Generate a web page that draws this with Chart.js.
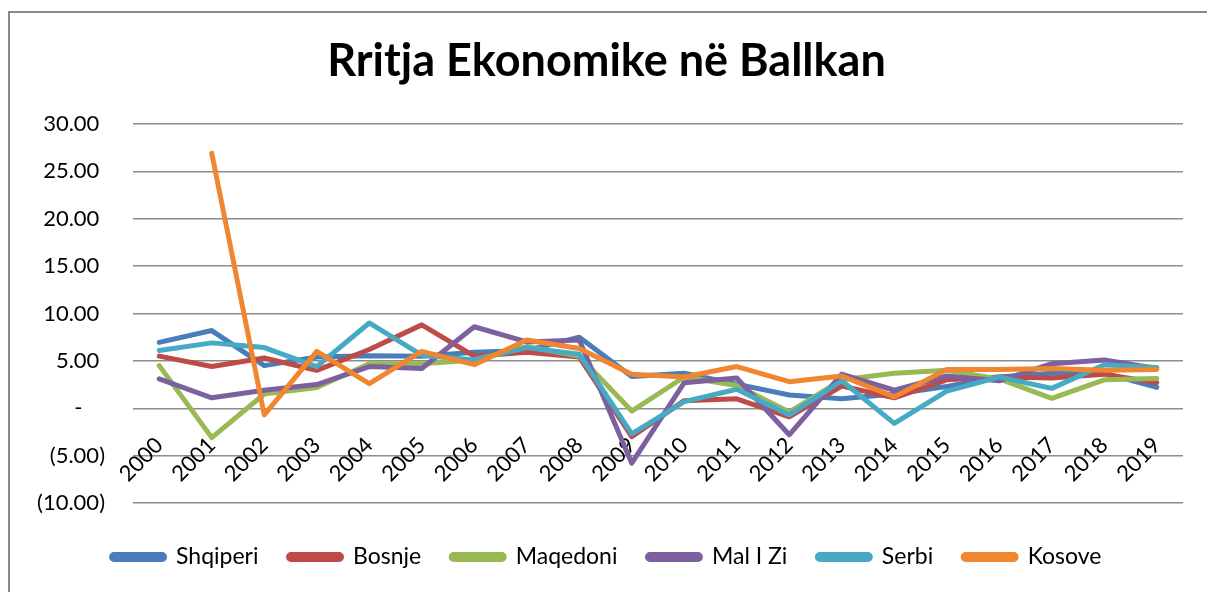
<!DOCTYPE html>
<html>
<head>
<meta charset="utf-8">
<script src="https://cdn.jsdelivr.net/npm/chart.js@4.4.1/dist/chart.umd.min.js"></script>
<style>
  html, body { margin: 0; padding: 0; background: #fff; overflow: hidden; }
  #frame { position: absolute; left: 8px; top: 11px; width: 1300px; height: 800px;
           border: 2px solid #8a8a8a; border-right: none; border-bottom: none; }
  #chart { position: absolute; left: 0; top: 0; }
</style>
</head>
<body>
<div id="frame"></div>
<canvas id="chart" width="1207" height="592"></canvas>
<script>
// --- Data ---
const years = ['2000', '2001', '2002', '2003', '2004', '2005', '2006', '2007', '2008', '2009',
  '2010', '2011', '2012', '2013', '2014', '2015', '2016', '2017', '2018', '2019'];

const shqiperi = [6.95, 8.2, 4.5, 5.4, 5.55, 5.5, 5.9, 6.1, 7.5, 3.35, 3.7, 2.55, 1.4, 1.0, 1.5, 2.3, 3.3, 3.7, 3.7, 2.2];
const bosnje   = [5.5, 4.4, 5.3, 4.0, 6.2, 8.8, 5.5, 5.9, 5.4, -3.0, 0.8, 1.0, -0.9, 2.35, 1.1, 3.0, 3.3, 3.2, 3.6, 2.7];
const maqedoni = [4.5, -3.1, 1.5, 2.2, 4.7, 4.7, 5.1, 6.5, 5.5, -0.3, 3.3, 2.4, -0.4, 3.0, 3.7, 4.0, 3.1, 1.05, 3.0, 3.15];
const malIZi   = [3.1, 1.1, 1.9, 2.5, 4.4, 4.2, 8.6, 7.0, 7.2, -5.8, 2.7, 3.2, -2.8, 3.6, 1.9, 3.4, 2.9, 4.7, 5.1, 4.2];
const serbi    = [6.1, 6.9, 6.4, 4.4, 9.0, 5.6, 5.1, 6.4, 5.7, -2.7, 0.7, 2.0, -0.7, 2.9, -1.6, 1.8, 3.3, 2.1, 4.6, 4.3];
const kosove   = [null, 26.9, -0.7, 6.0, 2.6, 6.0, 4.6, 7.2, 6.3, 3.6, 3.3, 4.4, 2.8, 3.4, 1.2, 4.1, 4.1, 4.2, 4.0, 4.1];

const seriesNames = ['Shqiperi', 'Bosnje', 'Maqedoni', 'Mal I Zi', 'Serbi', 'Kosove'];
const seriesColors = ['#4A7EBB', '#BE4B48', '#98B954', '#7D60A0', '#46AAC5', '#F08630'];
const seriesValues = [shqiperi, bosnje, maqedoni, malIZi, serbi, kosove];

const yMin = -10, yMax = 30, yStep = 5;

// --- Helpers ---
const FONT = 'Lato, "Open Sans", sans-serif';

// Excel accounting style: 5.00 / - / (5.00)
function fmtTick(v) {
  if (v === 0) return '-    ';
  if (v < 0) return '(' + Math.abs(v).toFixed(2) + ')';
  return v.toFixed(2) + ' ';
}

const datasets = seriesNames.map((name, i) => ({
  label: name,
  data: seriesValues[i],
  borderColor: seriesColors[i],
  backgroundColor: seriesColors[i],
  borderWidth: 5,
  borderJoinStyle: 'round',
  borderCapStyle: 'round',
  pointRadius: 0,
  pointHoverRadius: 0,
  tension: 0,
  fill: false,
  order: seriesNames.length - i   // later series on top, like Excel
}));

new Chart(document.getElementById('chart').getContext('2d'), {
  type: 'line',
  data: { labels: years, datasets },
  options: {
    responsive: false,
    animation: false,
    layout: { padding: { left: 30, right: 24, top: 0, bottom: 13.5 } },
    plugins: {
      title: {
        display: true,
        text: 'Rritja Ekonomike në Ballkan',
        color: '#000',
        font: { family: FONT, size: 45, weight: 'bold' },
        padding: { top: 34, bottom: 36 }
      },
      legend: {
        position: 'bottom',
        // empty title only used as a spacer above the legend row
        title: { display: true, text: '', font: { size: 10 }, padding: { top: 0, bottom: 0.5 } },
        labels: {
          sort: (a, b) => a.datasetIndex - b.datasetIndex,
          color: '#000',
          font: { family: FONT, size: 23 },
          boxWidth: 53,
          boxHeight: 5,
          useBorderRadius: true,
          borderRadius: 2.5,
          padding: 30
        }
      },
      tooltip: { enabled: false }
    },
    scales: {
      x: {
        type: 'category',
        position: { y: 0 },
        offset: true,
        grid: { display: false, drawTicks: false },
        border: { display: false },
        ticks: {
          autoSkip: false,
          minRotation: 45,
          maxRotation: 45,
          padding: 24,
          color: '#000',
          font: { family: FONT, size: 22 }
        }
      },
      y: {
        min: yMin,
        max: yMax,
        grid: { color: '#8c8c8c', lineWidth: 1.5, drawTicks: false },
        border: { display: false },
        ticks: {
          stepSize: yStep,
          padding: 28,
          color: '#000',
          font: { family: FONT, size: 22 },
          callback: v => fmtTick(v)
        },
        afterFit: scale => { scale.width = 103; }
      }
    }
  }
});
</script>
</body>
</html>
